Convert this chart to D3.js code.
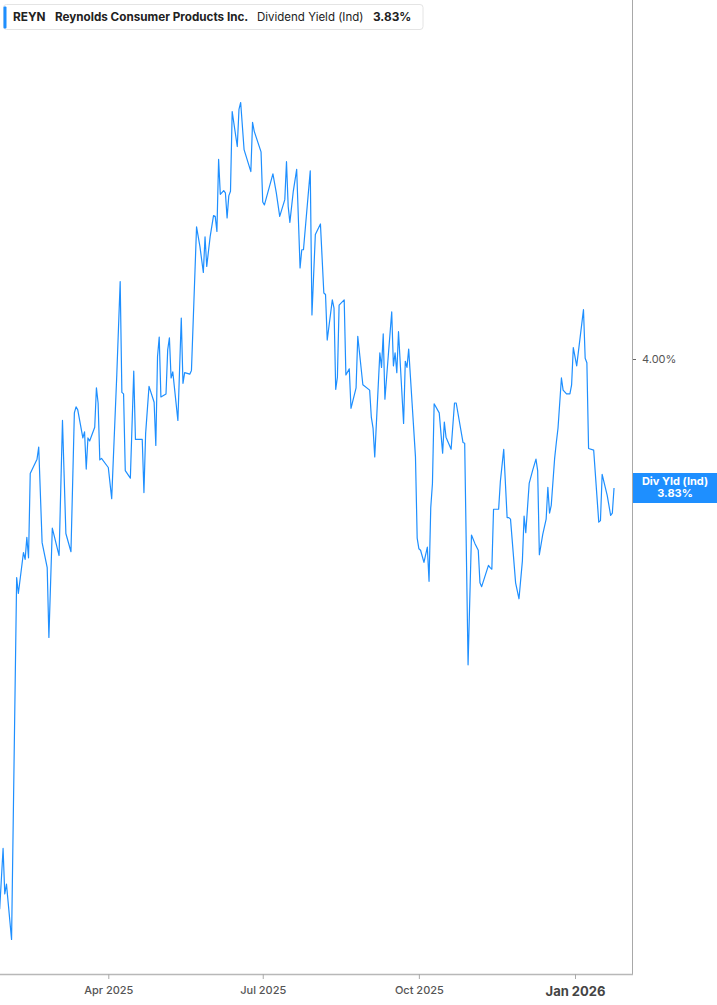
<!DOCTYPE html>
<html>
<head>
<meta charset="utf-8">
<script src="https://cdn.jsdelivr.net/npm/d3@7"></script>
<style>
  html, body { margin: 0; padding: 0; background: #fff; }
  svg { display: block; font-family: Inter, "Noto Sans", Roboto, sans-serif; }
</style>
</head>
<body>
<svg id="chart" width="717" height="1005"></svg>
<script>
// ---------------- DATA ----------------
const ticker = "REYN";
const companyName = "Reynolds Consumer Products Inc.";
const metricName = "Dividend Yield (Ind)";
const badgeName = "Div Yld (Ind)";

const dates = [
  "2025-01-27","2025-01-29","2025-01-30","2025-01-31","2025-02-03","2025-02-06","2025-02-07","2025-02-10","2025-02-11","2025-02-12",
  "2025-02-13","2025-02-14","2025-02-18","2025-02-19","2025-02-21","2025-02-24","2025-02-25","2025-02-27","2025-03-03","2025-03-05",
  "2025-03-07","2025-03-10","2025-03-12","2025-03-13","2025-03-14","2025-03-17","2025-03-18","2025-03-19","2025-03-20","2025-03-21",
  "2025-03-24","2025-03-25","2025-03-26","2025-03-27","2025-03-28","2025-03-31","2025-04-01","2025-04-03","2025-04-06","2025-04-08",
  "2025-04-09","2025-04-10","2025-04-11","2025-04-14","2025-04-16","2025-04-17","2025-04-21","2025-04-22","2025-04-23","2025-04-25",
  "2025-04-28","2025-04-29","2025-04-30","2025-05-01","2025-05-02","2025-05-05","2025-05-06","2025-05-07","2025-05-08","2025-05-09",
  "2025-05-12","2025-05-14","2025-05-15","2025-05-16","2025-05-19","2025-05-20","2025-05-23","2025-05-25","2025-05-27","2025-05-28",
  "2025-05-29","2025-05-31","2025-06-02","2025-06-03","2025-06-04","2025-06-05","2025-06-06","2025-06-08","2025-06-09","2025-06-10",
  "2025-06-11","2025-06-12","2025-06-13","2025-06-16","2025-06-17","2025-06-18","2025-06-20","2025-06-24","2025-06-25","2025-06-26",
  "2025-06-30","2025-07-01","2025-07-02","2025-07-07","2025-07-09","2025-07-11","2025-07-14","2025-07-15","2025-07-16","2025-07-17",
  "2025-07-19","2025-07-21","2025-07-23","2025-07-24","2025-07-25","2025-07-29","2025-07-30","2025-08-01","2025-08-04","2025-08-06",
  "2025-08-07","2025-08-08","2025-08-11","2025-08-12","2025-08-13","2025-08-14","2025-08-15","2025-08-18","2025-08-19","2025-08-21",
  "2025-08-22","2025-08-25","2025-08-26","2025-08-29","2025-09-02","2025-09-03","2025-09-04","2025-09-05","2025-09-08","2025-09-09",
  "2025-09-10","2025-09-11","2025-09-13","2025-09-15","2025-09-16","2025-09-17","2025-09-18","2025-09-19","2025-09-22","2025-09-23",
  "2025-09-24","2025-09-25","2025-09-27","2025-09-29","2025-09-30","2025-10-01","2025-10-02","2025-10-04","2025-10-06","2025-10-07",
  "2025-10-08","2025-10-09","2025-10-10","2025-10-13","2025-10-15","2025-10-16","2025-10-17","2025-10-20","2025-10-22","2025-10-23",
  "2025-10-27","2025-10-28","2025-10-30","2025-11-01","2025-11-03","2025-11-05","2025-11-06","2025-11-07","2025-11-11","2025-11-12",
  "2025-11-13","2025-11-14","2025-11-17","2025-11-18","2025-11-20","2025-11-22","2025-11-23","2025-11-24","2025-11-27","2025-11-29",
  "2025-12-01","2025-12-02","2025-12-03","2025-12-05","2025-12-07","2025-12-09","2025-12-10","2025-12-11","2025-12-13","2025-12-15",
  "2025-12-16","2025-12-17","2025-12-18","2025-12-20","2025-12-21","2025-12-22","2025-12-24","2025-12-25","2025-12-27","2025-12-29",
  "2025-12-30","2025-12-31","2026-01-02","2026-01-06","2026-01-07","2026-01-08","2026-01-09","2026-01-12","2026-01-15","2026-01-16",
  "2026-01-17","2026-01-20","2026-01-22","2026-01-23","2026-01-24"
];

const yields = [
  3.275,3.355,3.295,3.308,3.235,3.712,3.691,3.745,3.736,3.765,
  3.738,3.849,3.868,3.884,3.758,3.725,3.633,3.777,3.741,3.919,
  3.770,3.746,3.929,3.937,3.933,3.896,3.904,3.855,3.896,3.892,
  3.910,3.962,3.942,3.867,3.869,3.860,3.857,3.816,3.979,4.102,
  3.956,3.954,3.853,3.843,3.984,3.894,3.894,3.824,3.902,3.964,
  3.943,3.886,4.003,4.029,3.950,3.954,4.012,4.028,3.975,3.983,
  3.919,4.054,3.968,3.982,3.980,3.985,4.174,4.148,4.114,4.161,
  4.122,4.161,4.189,4.188,4.168,4.263,4.217,4.222,4.219,4.186,
  4.215,4.221,4.326,4.280,4.329,4.338,4.276,4.247,4.312,4.300,
  4.273,4.207,4.203,4.244,4.219,4.188,4.210,4.260,4.201,4.180,
  4.221,4.250,4.120,4.144,4.144,4.248,4.058,4.164,4.178,4.087,
  4.085,4.025,4.078,4.067,3.960,3.976,4.071,4.078,3.979,3.987,
  3.935,3.962,4.030,3.966,3.959,3.923,3.909,3.871,4.008,3.989,
  4.033,3.947,4.005,4.062,3.991,4.008,3.982,4.036,3.915,3.997,
  3.989,4.013,3.942,3.871,3.764,3.750,3.748,3.732,3.752,3.707,
  3.804,3.836,3.941,3.929,3.876,3.917,3.897,3.881,3.942,3.942,
  3.890,3.889,3.597,3.768,3.757,3.748,3.705,3.700,3.728,3.725,
  3.723,3.802,3.802,3.838,3.881,3.791,3.791,3.789,3.705,3.684,
  3.734,3.793,3.771,3.836,3.853,3.868,3.853,3.742,3.769,3.789,
  3.831,3.797,3.807,3.869,3.890,3.909,3.975,3.959,3.954,3.954,
  3.966,4.015,3.991,4.065,4.001,3.995,3.882,3.880,3.785,3.787,
  3.848,3.820,3.794,3.797,3.830
];

const xTickDates = ["2025-04-01","2025-07-01","2025-10-01","2026-01-01"];
const xTickLabels = ["Apr 2025","Jul 2025","Oct 2025","Jan 2026"];
const yTickValues = [4.00];
const currentValue = 3.83;

// ---------------- LAYOUT ----------------
const parse = d3.timeParse("%Y-%m-%d");
const data = dates.map((d, i) => ({ date: parse(d), value: yields[i] }));

const plotRight = 632, plotBottom = 974;
const svg = d3.select("#chart");

const x = d3.scaleTime()
  .domain([parse("2025-04-01"), parse("2026-01-01")])
  .range([108.3, 575]);
const y = d3.scaleLinear()
  .domain([3.83, 4.00])
  .range([488, 359]);

const fmtPct = v => v.toFixed(2) + "%";

// clip
svg.append("defs").append("clipPath").attr("id", "plotclip")
  .append("rect").attr("x", 0).attr("y", 0).attr("width", plotRight).attr("height", plotBottom);

// line
const line = d3.line().x(d => x(d.date)).y(d => y(d.value));
svg.append("path")
  .datum(data)
  .attr("clip-path", "url(#plotclip)")
  .attr("fill", "none")
  .attr("stroke", "#1e8fff")
  .attr("stroke-width", 1.2)
  .attr("stroke-linejoin", "round")
  .attr("d", line);

// right axis line
svg.append("line")
  .attr("x1", plotRight + 0.5).attr("x2", plotRight + 0.5)
  .attr("y1", 0).attr("y2", plotBottom)
  .attr("stroke", "#a8a8a8").attr("stroke-width", 1);

// bottom axis
const xAxis = d3.axisBottom(x)
  .tickValues(xTickDates.map(parse))
  .tickSize(5)
  .tickSizeOuter(0)
  .tickFormat((d, i) => xTickLabels[i]);
const gx = svg.append("g")
  .attr("transform", `translate(0,${plotBottom})`)
  .call(xAxis);
gx.select(".domain").attr("d", `M0,0.5H${plotRight + 1}`).attr("stroke", "#b8b8b8").attr("stroke-width", 1.6);
gx.selectAll(".tick line").attr("stroke", "#aaa");
gx.selectAll(".tick text")
  .attr("fill", "#555")
  .attr("font-size", 11)
  .attr("font-weight", 500)
  .attr("font-family", "Inter, sans-serif")
  .attr("dy", "1.05em");
gx.selectAll(".tick text").filter((d, i) => i === xTickLabels.length - 1)
  .attr("font-size", 13)
  .attr("font-weight", 700)
  .attr("fill", "#444")
  .attr("dy", "1.05em");

// right axis tick
const yAxis = d3.axisRight(y)
  .tickValues(yTickValues)
  .tickSize(3)
  .tickPadding(6)
  .tickFormat(fmtPct);
const gy = svg.append("g")
  .attr("transform", `translate(${plotRight + 1},0)`)
  .call(yAxis);
gy.select(".domain").remove();
gy.selectAll(".tick line").attr("stroke", "#666");
gy.selectAll(".tick text")
  .attr("fill", "#555")
  .attr("font-size", 11)
  .attr("font-family", "Inter, sans-serif");

// current value badge
const by = y(currentValue);
const badge = svg.append("g");
badge.append("rect")
  .attr("x", plotRight + 1).attr("y", by - 15)
  .attr("width", 717 - plotRight - 1).attr("height", 30)
  .attr("fill", "#1e8fff");
badge.append("text")
  .attr("x", 675).attr("y", by - 3)
  .attr("text-anchor", "middle")
  .attr("fill", "#fff").attr("font-size", 11).attr("font-weight", 700)
  .text(badgeName);
badge.append("text")
  .attr("x", 675).attr("y", by + 9)
  .attr("text-anchor", "middle")
  .attr("fill", "#fff").attr("font-size", 11).attr("font-weight", 700)
  .text(fmtPct(currentValue));

// header legend box
const hdr = svg.append("g");
hdr.append("rect")
  .attr("x", 3.5).attr("y", 4.5).attr("width", 419.5).attr("height", 25)
  .attr("rx", 3).attr("fill", "#fff").attr("stroke", "#e4e4e4");
hdr.append("rect")
  .attr("x", 3.5).attr("y", 6.5).attr("width", 3).attr("height", 22)
  .attr("rx", 1).attr("fill", "#1e8fff");
const hy = 21;
hdr.append("text").attr("x", 13).attr("y", hy)
  .attr("font-size", 11.8).attr("font-weight", 700).attr("fill", "#222").text(ticker);
hdr.append("text").attr("x", 55).attr("y", hy)
  .attr("font-size", 11.7).attr("font-weight", 700).attr("fill", "#222").text(companyName);
hdr.append("text").attr("x", 257).attr("y", hy)
  .attr("font-size", 11.5).attr("font-weight", 400).attr("fill", "#222").text(metricName);
hdr.append("text").attr("x", 373).attr("y", hy)
  .attr("font-size", 11.8).attr("font-weight", 700).attr("fill", "#222").text(fmtPct(currentValue));
</script>
</body>
</html>
